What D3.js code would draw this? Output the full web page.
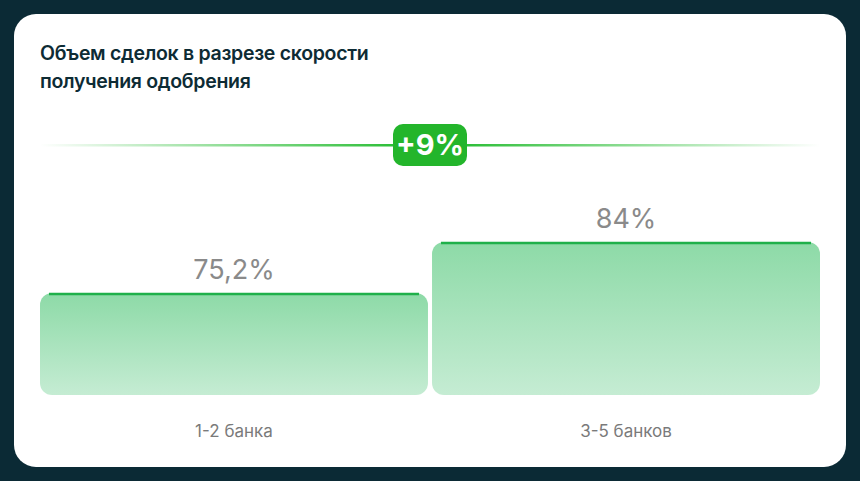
<!DOCTYPE html>
<html><head><meta charset="utf-8">
<script src="https://cdn.jsdelivr.net/npm/d3@7"></script>
<style>body{margin:0;background:#0b2a35;}svg{display:block;font-family:Inter,"Noto Sans",sans-serif;}</style>
</head><body>
<script>
const categories = ['1-2 банка', '3-5 банков'];
const values = [75.2, 84];
const valueLabels = ['75,2%', '84%'];
const titleLines = ['Объем сделок в разрезе скорости', 'получения одобрения'];
const deltaLabel = '+9%';

const W = 860, H = 481;
const svg = d3.select('body').append('svg').attr('width', W).attr('height', H);
const defs = svg.append('defs');

const barGrad = defs.append('linearGradient').attr('id', 'bar').attr('x1', 0).attr('x2', 0).attr('y1', 0).attr('y2', 1);
barGrad.append('stop').attr('offset', 0).attr('stop-color', '#8ddaa7');
barGrad.append('stop').attr('offset', 1).attr('stop-color', '#c5ecd3');

const lineGrad = defs.append('linearGradient').attr('id', 'line');
lineGrad.append('stop').attr('offset', 0).attr('stop-color', '#2fbf3a').attr('stop-opacity', 0);
lineGrad.append('stop').attr('offset', 0.45).attr('stop-color', '#2fbf3a').attr('stop-opacity', 1);
lineGrad.append('stop').attr('offset', 0.55).attr('stop-color', '#2fbf3a').attr('stop-opacity', 1);
lineGrad.append('stop').attr('offset', 1).attr('stop-color', '#2fbf3a').attr('stop-opacity', 0);

// card
svg.append('rect').attr('x', 14).attr('y', 14).attr('width', 832).attr('height', 453).attr('rx', 22).attr('fill', '#fff');

svg.append('text').attr('x', 40).attr('y', 60).attr('font-size', 19.5).attr('font-weight', 600).attr('fill', '#0d2b34')
  .attr('letter-spacing', -0.3)
  .selectAll('tspan').data(titleLines).join('tspan').attr('x', 40).attr('dy', (d, i) => i ? 28 : 0).text(d => d);

// scales
const x = d3.scaleBand().domain(categories).range([40, 820]).paddingInner(0.0103);
const y = d3.scaleLinear().domain([57.6, 84]).range([395, 242]);

const bars = svg.append('g').selectAll('g').data(values).join('g');
bars.append('path')
  .attr('d', (d, i) => {
    const x0 = x(categories[i]), w = x.bandwidth(), y0 = y(d), h = 395 - y0, r = 12;
    const p = d3.path();
    p.moveTo(x0, y0 + r); p.arcTo(x0, y0, x0 + r, y0, r);
    p.lineTo(x0 + w - r, y0); p.arcTo(x0 + w, y0, x0 + w, y0 + r, r);
    p.lineTo(x0 + w, y0 + h - r); p.arcTo(x0 + w, y0 + h, x0 + w - r, y0 + h, r);
    p.lineTo(x0 + r, y0 + h); p.arcTo(x0, y0 + h, x0, y0 + h - r, r);
    p.closePath();
    return p.toString();
  })
  .attr('fill', 'url(#bar)');
bars.append('line')
  .attr('x1', (d, i) => x(categories[i]) + 9).attr('x2', (d, i) => x(categories[i]) + x.bandwidth() - 9)
  .attr('y1', d => y(d) + 1).attr('y2', d => y(d) + 1)
  .attr('stroke', '#1fb04a').attr('stroke-width', 2.5);
bars.append('text')
  .attr('x', (d, i) => x(categories[i]) + x.bandwidth() / 2).attr('y', d => y(d) - 14)
  .attr('text-anchor', 'middle').attr('font-size', 27).attr('fill', '#8a8a8a')
  .text((d, i) => valueLabels[i]);
bars.append('text')
  .attr('x', (d, i) => x(categories[i]) + x.bandwidth() / 2).attr('y', 437)
  .attr('text-anchor', 'middle').attr('font-size', 17).attr('fill', '#7a7a7a')
  .text((d, i) => categories[i]);

// delta line + badge
svg.append('rect').attr('x', 40).attr('y', 144).attr('width', 780).attr('height', 2.5).attr('fill', 'url(#line)');
svg.append('rect').attr('x', 393).attr('y', 124).attr('width', 74).attr('height', 42).attr('rx', 10).attr('fill', '#23b52b');
svg.append('text').attr('x', 430).attr('y', 155).attr('text-anchor', 'middle').attr('font-size', 29).attr('font-weight', 700)
  .attr('fill', '#fff').text(deltaLabel);
</script>
</body></html>
